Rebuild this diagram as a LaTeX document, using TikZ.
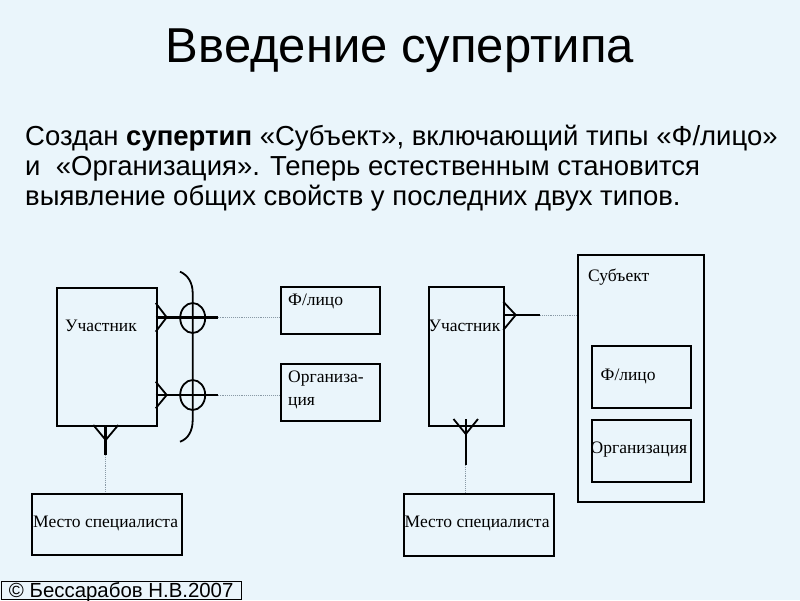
\documentclass[tikz,border=0pt]{standalone}
\usepackage{fontspec}
\setmainfont{Liberation Serif}
\newfontfamily\arial{Liberation Sans}
\definecolor{bg}{HTML}{EAF5FB}
\definecolor{dotc}{HTML}{8A9AA6}
\begin{document}
\begin{tikzpicture}[x=1pt,y=-1pt,
  ent/.style={draw=black, line width=2pt, anchor=north west, inner sep=0pt},
  lbl/.style={anchor=base west, inner sep=0pt, font=\fontsize{17.5}{23}\selectfont},
  foot/.style={line width=1.8pt, line join=miter},
  rel/.style={line width=2.6pt},
  dotl/.style={draw=dotc, densely dotted, line width=0.9pt}]
\fill[bg] (0,0) rectangle (800,600);
\useasboundingbox (0,0) rectangle (800,600);

% title and text
\node[anchor=base, inner sep=0pt, font=\arial\fontsize{49}{54}\selectfont] (title) at (400,62) {Введение супертипа};
\node[anchor=base west, inner sep=0pt, align=left, font=\arial\fontsize{27.5}{30}\selectfont] (para) at (25,205)
  {Создан \textbf{супертип} «Субъект», включающий типы «Ф/лицо»\\
   и\ \ «Организация». Теперь естественным становится\\
   выявление общих свойств у последних двух типов.};

% left diagram boxes
\node[ent, minimum width=100pt, minimum height=138pt] (u1) at (55.7,287) {};
\node[ent, minimum width=99.3pt, minimum height=47.3pt] (f1) at (280,286) {};
\node[ent, minimum width=99.3pt, minimum height=57pt] (o1) at (280,363.3) {};
\node[ent, minimum width=150pt, minimum height=61.3pt] (m1) at (31,492.7) {};
\node[lbl] (tu1) at (65,331.5) {Участник};
\node[lbl] (tf1) at (288,305) {Ф/лицо};
\node[lbl, align=left] (to1) at (288,405) {Организа-\\ция};
\node[lbl] (tm1) at (33,527) {Место специалиста};

% right diagram boxes
\node[ent, minimum width=75pt, minimum height=139pt] (u2) at (428.3,286) {};
\node[ent, minimum width=150pt, minimum height=62.3pt] (m2) at (403.3,492.7) {};
\node[ent, minimum width=125.4pt, minimum height=246.7pt] (s) at (577.3,254) {};
\node[ent, minimum width=99.3pt, minimum height=61.7pt] (f2) at (590.7,345) {};
\node[ent, minimum width=99.3pt, minimum height=61.7pt] (o2) at (590.7,419) {};
\node[lbl] (tu2) at (428.5,331) {Участник};
\node[lbl] (tm2) at (404.5,527) {Место специалиста};
\node[lbl] (ts) at (588,281) {Субъект};
\node[lbl] (tf2) at (600.5,380) {Ф/лицо};
\node[lbl] (to2) at (590.5,453) {Организация};

% relationship 1 (u1 - f1)
\coordinate (a1) at (155.7,317.3);
\coordinate (a1t) at (166.7,317.3);
\coordinate (a1e) at (217.7,317.3);
\coordinate (a1f) at (280,317.3);
\draw[foot] (155.7,303) -- (a1t) -- (155.7,331.7);
\draw[rel] (a1) -- (a1e);
\draw[line width=1.8pt] (192.7,318) ellipse [x radius=12.5pt, y radius=15pt];
\draw[dotl] (a1e) -- (a1f);

% relationship 2 (u1 - o1)
\coordinate (a2) at (155.7,395);
\coordinate (a2t) at (166.7,395);
\coordinate (a2e) at (217.7,395);
\coordinate (a2f) at (280,395);
\draw[foot] (155.7,381.7) -- (a2t) -- (155.7,408.3);
\draw[rel] (a2) -- (a2e);
\draw[line width=1.8pt] (192.7,395) ellipse [x radius=12.5pt, y radius=15pt];
\draw[dotl] (a2e) -- (a2f);

% brace (exclusive arc)
\draw[line width=1.8pt] (180,271.7) .. controls (188,275) and (192.7,283) .. (192.7,293)
  -- (192.7,420) .. controls (192.7,431) and (188,439) .. (180,441.7);

% relationship u1 - m1
\coordinate (b1) at (105.7,425);
\coordinate (b1t) at (105.7,440);
\coordinate (b1e) at (105.7,455);
\draw[foot] (93.3,425) -- (b1t) -- (118.3,425);
\draw[rel] (b1) -- (b1e);
\draw[dotl] (b1e) -- (m1.north -| b1e);

% relationship u2 - s
\coordinate (c1) at (503.3,315);
\coordinate (c1t) at (515.7,315);
\coordinate (c1e) at (540,315);
\draw[foot] (503.3,301.7) -- (c1t) -- (503.3,330);
\draw[rel] (c1) -- (c1e);
\draw[dotl] (c1e) -- (s.west |- c1e);

% relationship u2 - m2
\coordinate (d1) at (465.8,419);
\coordinate (d1t) at (465.8,434);
\coordinate (d1e) at (465.8,465);
\draw[foot] (453.5,419) -- (d1t) -- (478,419);
\draw[rel] (d1) -- (d1e);
\draw[dotl] (d1e) -- (m2.north -| d1e);

% footer
\node[anchor=south west, draw=black, line width=1pt, inner xsep=8pt, inner ysep=1.5pt, text height=14.5pt, text depth=0.5pt,
  font=\arial\fontsize{20.4}{22}\selectfont] (copy) at (0.5,599.5) {© Бессарабов Н.В.2007};
\end{tikzpicture}
\end{document}
